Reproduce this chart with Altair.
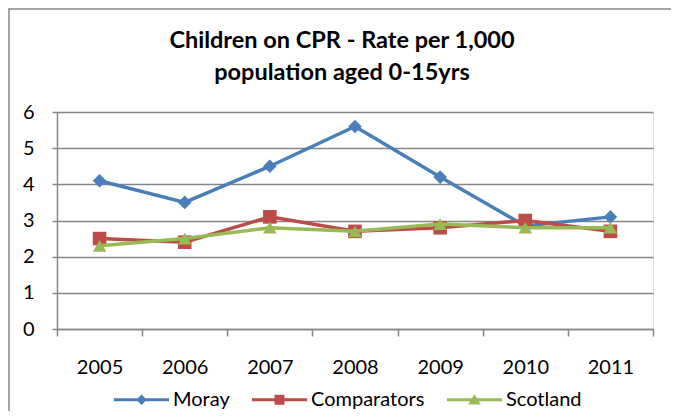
import altair as alt
import pandas as pd

years = ["2005", "2006", "2007", "2008", "2009", "2010", "2011"]
moray = [4.1, 3.5, 4.5, 5.6, 4.2, 2.85, 3.1]
comparators = [2.5, 2.4, 3.1, 2.7, 2.8, 3.0, 2.7]
scotland = [2.3, 2.5, 2.8, 2.7, 2.9, 2.8, 2.8]
series = ["Moray", "Comparators", "Scotland"]
colors = ["#4A7EBB", "#BE4B48", "#98B954"]
shapes = ["diamond", "square", "triangle-up"]
title_lines = ["Children on CPR - Rate per 1,000", "population aged 0-15yrs"]

values = {"Moray": moray, "Comparators": comparators, "Scotland": scotland}
rows = []
for s in series:
    for y, v in zip(years, values[s]):
        rows.append({"year": y, "value": v, "series": s})
df = pd.DataFrame(rows)

FONT = "Lato"
GRAY = "#868686"

# legend symbols: a line with a marker in the middle
leg_paths = [
    "M-1,-0.055H1V0.055H-1Z M0,-0.19L0.19,0L0,0.19L-0.19,0Z",
    "M-1,-0.055H1V0.055H-1Z M-0.18,-0.18H0.18V0.18H-0.18Z",
    "M-1,-0.055H1V0.055H-1Z M0,-0.2L0.23,0.17H-0.23Z",
]

legend = alt.Legend(
    title=None,
    orient="none",
    legendX=57,
    legendY=260,
    direction="horizontal",
    symbolSize=3025,
    symbolStrokeWidth=0,
    labelFont=FONT,
    labelFontSize=20,
    labelColor="black",
    labelOffset=4,
    columnPadding=22,
)

x_enc = alt.X(
    "year:O",
    scale=alt.Scale(domain=years, paddingInner=0, paddingOuter=0),
    axis=alt.Axis(
        title=None, labelAngle=0, tickBand="extent", tickSize=7, labelPadding=21,
        labelFont=FONT, labelFontSize=20, labelColor="black",
        domainColor=GRAY, tickColor=GRAY, domainWidth=1.5, tickWidth=1.5, grid=False,
    ),
)
y_enc = alt.Y(
    "value:Q",
    scale=alt.Scale(domain=[0, 6]),
    axis=alt.Axis(
        title=None, values=[0, 1, 2, 3, 4, 5, 6], tickSize=5, labelPadding=18,
        labelFont=FONT, labelFontSize=20, labelColor="black",
        domainColor=GRAY, tickColor=GRAY, domainWidth=1.5, tickWidth=1.5,
        grid=True, gridColor=GRAY, gridWidth=1.5,
    ),
)
color_scale = alt.Scale(domain=series, range=colors)
color_enc = alt.Color("series:N", scale=color_scale, legend=legend)
shape_enc = alt.Shape("series:N", scale=alt.Scale(domain=series, range=leg_paths), legend=legend)

base = alt.Chart(df)
layers = []
for s, shp in zip(series, shapes):
    f = base.transform_filter(alt.datum.series == s)
    layers.append(f.mark_line(strokeWidth=3.5).encode(x=x_enc, y=y_enc, color=color_enc))
    layers.append(
        f.mark_point(filled=True, size=185, opacity=1, shape=shp).encode(
            x=x_enc, y=y_enc, color=color_enc
        )
    )

# legend-only layer (no rows drawn)
legend_layer = base.transform_filter("false").mark_point(
    filled=True, opacity=1, size=3025, strokeWidth=0
).encode(x=x_enc, y=y_enc, color=color_enc, shape=shape_enc)

one = pd.DataFrame({"a": [0]})
border = alt.Chart(one).mark_rect(
    fillOpacity=0, stroke=GRAY, strokeWidth=1.5
).encode(x=alt.value(-48), x2=alt.value(700), y=alt.value(-103), y2=alt.value(400))

title = alt.Chart(one).mark_text(
    text="\n".join(title_lines), lineBreak="\n", font=FONT, fontSize=23.5, fontWeight="bold",
    color="black", align="center", baseline="alphabetic", lineHeight=32,
).encode(x=alt.value(285), y=alt.value(-64))

chart = alt.layer(border, title, *layers, legend_layer).properties(
    width=596,
    height=217,
    autosize=alt.AutoSizeParams(type="none"),
    padding={"left": 49, "top": 104, "right": 18, "bottom": 82},
).configure_view(stroke=None).configure(background="white")

chart.save("out.html", embed_options={"renderer": "svg", "actions": False})
